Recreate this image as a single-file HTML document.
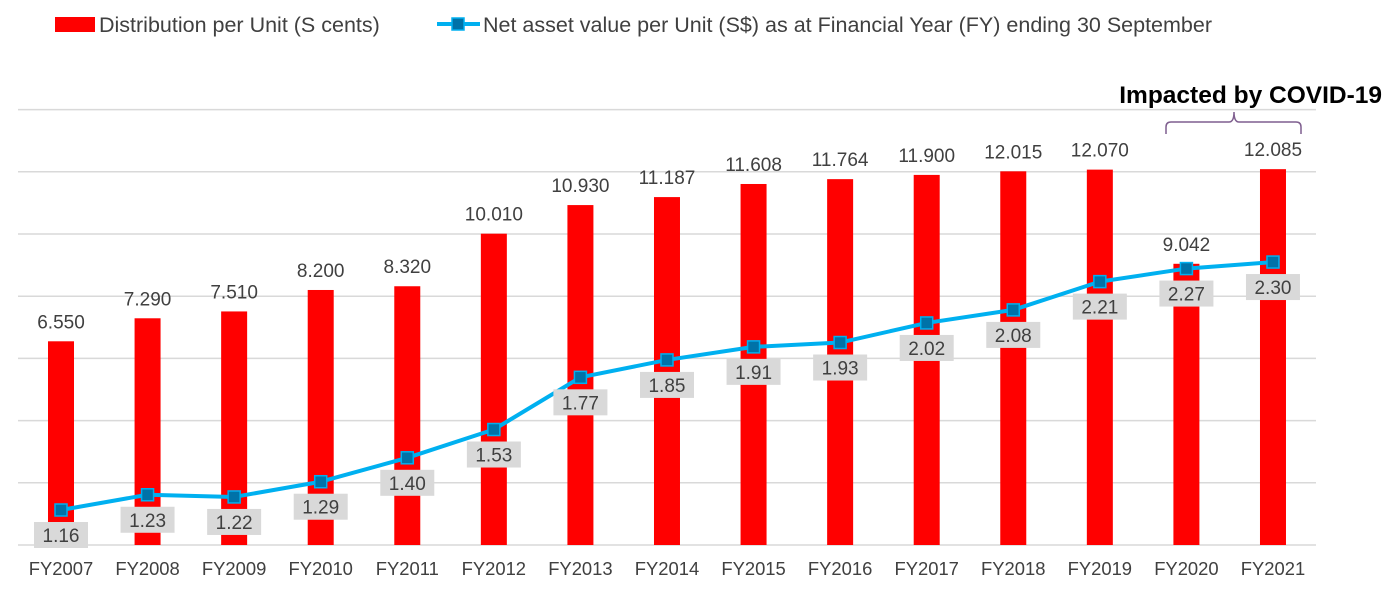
<!DOCTYPE html>
<html><head><meta charset="utf-8"><style>
body{margin:0;background:#fff;}
svg{display:block;font-family:"Liberation Sans",Arial,sans-serif;}
</style></head><body>
<svg id="chart" width="1396" height="598">
<g>
<rect x="55" y="17" width="40" height="15" fill="#ff0000"/>
<text x="99" y="32" font-size="21.5" fill="#404040">Distribution per Unit (S cents)</text>
<line x1="437" y1="24" x2="480" y2="24" stroke="#00b0f0" stroke-width="4"/>
<rect x="452" y="18" width="12" height="12" fill="#0072a8" stroke="#00b0f0" stroke-width="1.5"/>
<text x="483" y="32" font-size="21.5" fill="#404040">Net asset value per Unit (S$) as at Financial Year (FY) ending 30 September</text>
</g>
<g id="grid"></g>
<g id="bars"></g>
<g id="line"></g>
<g id="xaxis"></g>
<text x="1382" y="103" font-size="24.5" font-weight="bold" text-anchor="end" fill="#000">Impacted by COVID-19</text>
<path d="M1166,134 V127 Q1166,122 1171,122 H1229 Q1234,122 1234,112 Q1234,122 1239,122 H1296 Q1301,122 1301,127 V134" fill="none" stroke="#7f5f8f" stroke-width="1.5"/>
</svg>
<script>
const categories=["FY2007","FY2008","FY2009","FY2010","FY2011","FY2012","FY2013","FY2014","FY2015","FY2016","FY2017","FY2018","FY2019","FY2020","FY2021"];
const distribution=[6.550,7.290,7.510,8.200,8.320,10.010,10.930,11.187,11.608,11.764,11.900,12.015,12.070,9.042,12.085];
const distLabels=["6.550","7.290","7.510","8.200","8.320","10.010","10.930","11.187","11.608","11.764","11.900","12.015","12.070","9.042","12.085"];
const nav=[1.16,1.23,1.22,1.29,1.40,1.53,1.77,1.85,1.91,1.93,2.02,2.08,2.21,2.27,2.30];
const navLabels=["1.16","1.23","1.22","1.29","1.40","1.53","1.77","1.85","1.91","1.93","2.02","2.08","2.21","2.27","2.30"];
const gridTicks=[0,2,4,6,8,10,12,14];
const NS="http://www.w3.org/2000/svg";
const x=i=>61+i*86.57;
const yBar=v=>545-v*31.1;
const yNav=v=>510-(v-1.16)*217.5;
function mk(tag,attrs,parent){const e=document.createElementNS(NS,tag);for(const k in attrs)e.setAttribute(k,attrs[k]);parent.appendChild(e);return e;}
const grid=document.getElementById('grid');
gridTicks.forEach(t=>{const l=mk('line',{x1:18,x2:1316,y1:yBar(t),y2:yBar(t),stroke:'#d9d9d9','stroke-width':1.5},grid);

});
const bars=document.getElementById('bars');
distribution.forEach((v,i)=>{const r=mk('rect',{x:x(i)-13,y:yBar(v),width:26,height:545-yBar(v),fill:'#ff0000'},bars);


const t=mk('text',{x:x(i),y:yBar(v)-13,'font-size':19,'text-anchor':'middle',fill:'#404040'},bars);t.textContent=distLabels[i];

});
const lg=document.getElementById('line');
const p=mk('polyline',{points:nav.map((v,i)=>x(i)+','+yNav(v)).join(' '),fill:'none',stroke:'#00b0f0','stroke-width':4,'stroke-linejoin':'round'},lg);


nav.forEach((v,i)=>{const y=yNav(v);
const b=mk('rect',{x:x(i)-27,y:y+12,width:54,height:26,fill:'#d9d9d9'},lg);


const t=mk('text',{x:x(i),y:y+32,'font-size':19,'text-anchor':'middle',fill:'#404040'},lg);t.textContent=navLabels[i];

});
nav.forEach((v,i)=>{const m=mk('rect',{x:x(i)-6,y:yNav(v)-6,width:12,height:12,fill:'#0072a8',stroke:'#00b0f0','stroke-width':1.5},lg);

});
const xa=document.getElementById('xaxis');
categories.forEach((c,i)=>{const t=mk('text',{x:x(i),y:575,'font-size':18.4,'text-anchor':'middle',fill:'#404040'},xa);t.textContent=c;

});
</script>
</body></html>
